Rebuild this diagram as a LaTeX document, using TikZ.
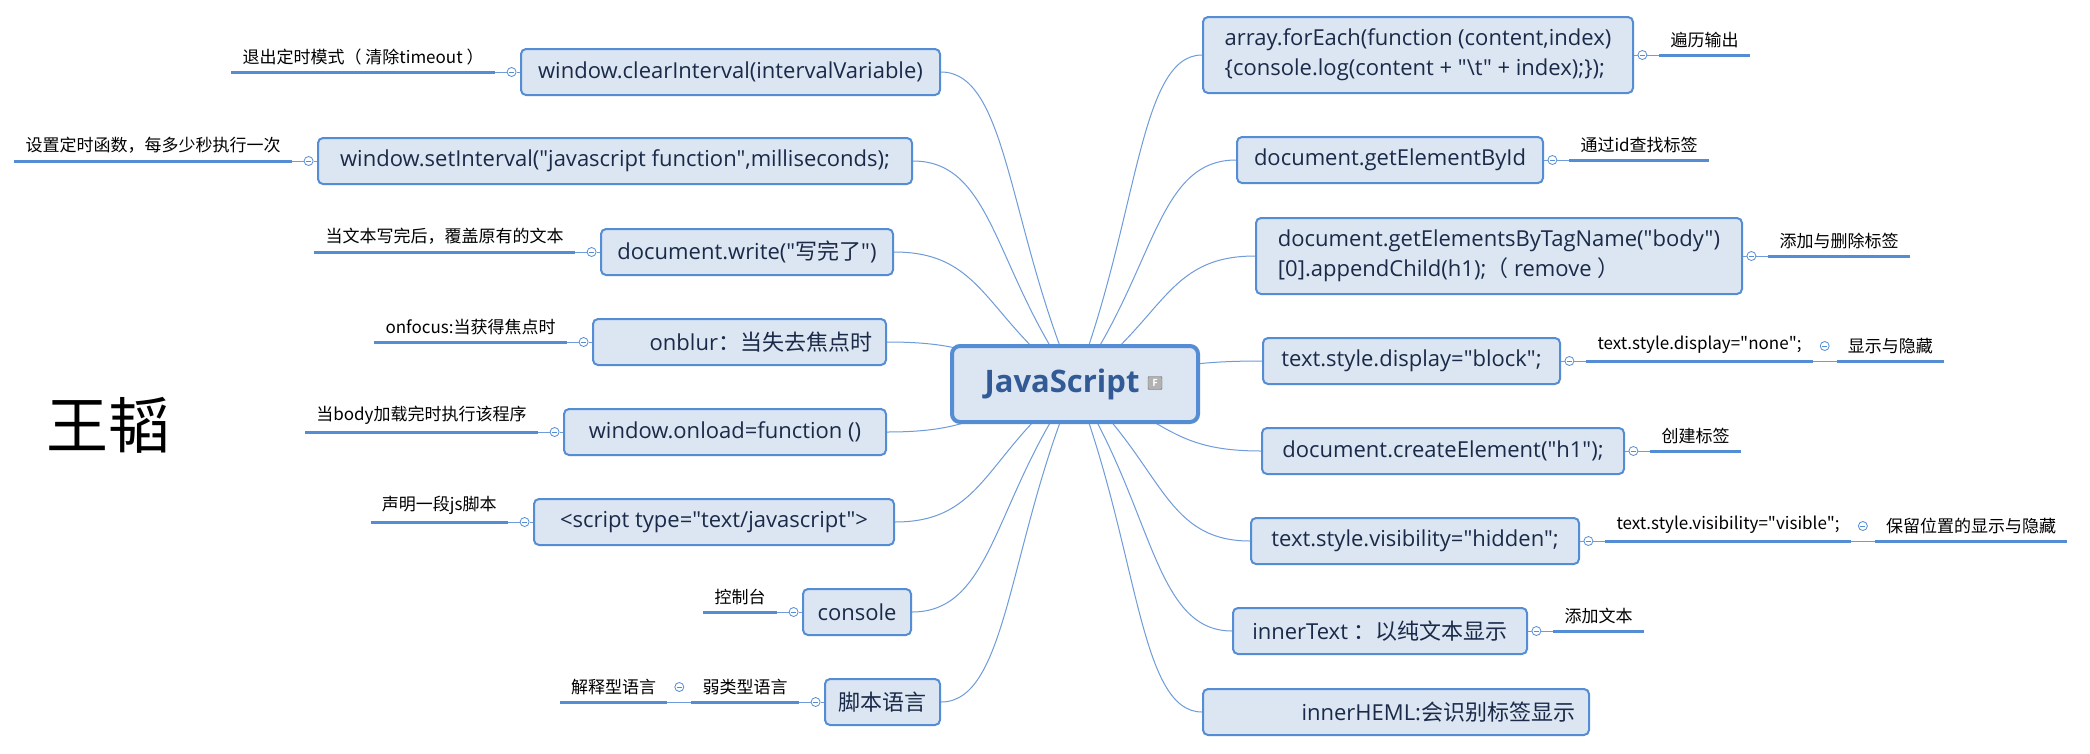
\documentclass[tikz,border=0pt]{standalone}
\usepackage{fontspec}
\newfontfamily\latin{Open Sans}
\newfontfamily\cjk{Noto Sans CJK SC}
\usetikzlibrary{positioning,calc,backgrounds}
\definecolor{topicfill}{RGB}{220,230,242}
\definecolor{topicline}{RGB}{85,141,213}
\definecolor{branchcol}{RGB}{110,155,218}
\definecolor{topictext}{RGB}{26,42,72}
\definecolor{roottext}{RGB}{50,90,150}
\tikzset{
  root/.style={draw=topicline, line width=4pt, fill=topicfill, rounded corners=8pt,
    minimum width=246pt, minimum height=76pt, text=roottext,
    font=\latin\bfseries\fontsize{31}{36}\selectfont},
  topic/.style={draw=topicline, line width=2pt, fill=topicfill, rounded corners=5pt,
    minimum height=46pt, inner xsep=8pt, text=topictext,
    font=\latin\fontsize{22}{30}\selectfont},
  fold/.style={circle, draw=topicline, line width=0.8pt, fill=white,
    minimum size=9pt, inner sep=0pt,
    path picture={\draw[topicline, line width=0.8pt]
      ([xshift=-2.5pt]path picture bounding box.center) --
      ([xshift=2.5pt]path picture bounding box.center);}},
  note/.style={inner xsep=11pt, inner ysep=7pt, font=\cjk\fontsize{17}{20}\selectfont},
  uline/.style={draw=topicline, line width=3pt},
  link/.style={draw=branchcol, line width=0.9pt},
  branch/.style={draw=branchcol, line width=1pt},
  ficon/.style={draw=gray!80!black, fill=gray!60, rounded corners=1pt,
    minimum width=14pt, minimum height=13pt, inner sep=0pt, text=white,
    font=\latin\bfseries\fontsize{10}{10}\selectfont}
}

\begin{document}
\begin{tikzpicture}[x=1pt, y=-1pt]
\useasboundingbox (0,0) rectangle (2090,753);
% central topic
\node[root] (root) at (1075,384) {JavaScript\hspace*{26pt}};
\node[ficon] (root-f) at (1155,383) {F};
\node[font=\cjk\fontsize{62}{62}\selectfont] (author) at (108,425) {王韬};
% left topics
\node[topic, minimum width=419pt] (cw) at (730.5,72) {window.clearInterval(intervalVariable)};
\node[topic, minimum width=594pt] (si) at (615,161) {window.setInterval("javascript function",milliseconds);};
\node[topic, minimum width=292pt] (dw) at (747,252) {document.write("{\cjk 写完了}")};
\node[topic, inner xsep=14pt, text width=265pt, align=right] (ob) at (739.5,342) {onblur{\cjk ：当失去焦点时}};
\node[topic, minimum width=322pt] (wo) at (725,432) {window.onload=function ()};
\node[topic, minimum width=360pt] (sc) at (714,522) {<script type="text/javascript">};
\node[topic, minimum width=108pt] (co) at (857,612) {console};
\node[topic, minimum width=115pt] (jb) at (882.5,702) {\cjk 脚本语言};
% right topics
\node[topic, minimum width=430pt, minimum height=76pt, align=left] (fe) at (1418,55)
  {array.forEach(function (content,index)\\\{console.log(content + "\textbackslash t" + index);\});};
\node[topic, minimum width=306pt] (gi) at (1390,160) {document.getElementById};
\node[topic, minimum width=486pt, minimum height=76pt, align=left] (gt) at (1499,256)
  {document.getElementsByTagName("body")\\{}[0].appendChild(h1);{\cjk （} remove {\cjk ）}};
\node[topic, minimum width=297pt] (db) at (1411.5,361) {text.style.display="block";};
\node[topic, minimum width=362pt] (ce) at (1443,451) {document.createElement("h1");};
\node[topic, minimum width=328pt] (vh) at (1415,541) {text.style.visibility="hidden";};
\node[topic, minimum width=294pt] (it) at (1380,631) {innerText {\cjk ：以纯文本显示}};
\node[topic, inner xsep=14pt, text width=358pt, align=right] (ih) at (1396,712) {innerHEML:{\cjk 会识别标签显示}};

% fold markers and notes, left
\foreach \b in {cw,si,dw,ob,wo,sc,co,jb}
  \node[fold, left=3.5pt of \b] (\b-f) {};
\node[note, anchor=south east] (cw-n) at ([xshift=-12pt]cw-f.west) {退出定时模式（ 清除timeout ）};
\node[note, anchor=south east] (si-n) at ([xshift=-12pt]si-f.west) {设置定时函数，每多少秒执行一次};
\node[note, anchor=south east] (dw-n) at ([xshift=-12pt]dw-f.west) {当文本写完后，覆盖原有的文本};
\node[note, anchor=south east] (ob-n) at ([xshift=-12pt]ob-f.west) {onfocus:当获得焦点时};
\node[note, anchor=south east] (wo-n) at ([xshift=-12pt]wo-f.west) {当body加载完时执行该程序};
\node[note, anchor=south east] (sc-n) at ([xshift=-12pt]sc-f.west) {声明一段js脚本};
\node[note, anchor=south east] (co-n) at ([xshift=-12pt]co-f.west) {控制台};
\node[note, anchor=south east] (jb-n) at ([xshift=-12pt]jb-f.west) {弱类型语言};
\node[note, anchor=south east] (jb-m) at ([xshift=-24pt]jb-n.south west) {解释型语言};
\node[fold] (jb-g) at ($(jb-n.south west)!0.5!(jb-m.south east)+(0,15pt)$) {};

% fold markers and notes, right
\foreach \b in {fe,gi,gt,db,ce,vh,it}
  \node[fold, right=3.5pt of \b] (\b-f) {};
\node[note, anchor=south west] (fe-n) at ([xshift=12pt]fe-f.east) {遍历输出};
\node[note, anchor=south west] (gi-n) at ([xshift=12pt]gi-f.east) {通过id查找标签};
\node[note, anchor=south west] (gt-n) at ([xshift=12pt]gt-f.east) {添加与删除标签};
\node[note, anchor=south west] (db-n) at ([xshift=12pt]db-f.east) {text.style.display="none";};
\node[note, anchor=south west] (db-m) at ([xshift=24pt]db-n.south east) {显示与隐藏};
\node[fold] (db-g) at ($(db-n.south east)!0.5!(db-m.south west)+(0,15pt)$) {};
\node[note, anchor=south west] (ce-n) at ([xshift=12pt]ce-f.east) {创建标签};
\node[note, anchor=south west] (vh-n) at ([xshift=12pt]vh-f.east) {text.style.visibility="visible";};
\node[note, anchor=south west] (vh-m) at ([xshift=24pt]vh-n.south east) {保留位置的显示与隐藏};
\node[fold] (vh-g) at ($(vh-n.south east)!0.5!(vh-m.south west)+(0,15pt)$) {};
\node[note, anchor=south west] (it-n) at ([xshift=12pt]it-f.east) {添加文本};

% note lines
\foreach \b in {cw,si,dw,ob,wo,sc,co,jb} {
  \draw[link] (\b.west) -- (\b-f.east);
  \draw[link] (\b-f.west) -- (\b-n.south east);
  \draw[uline] (\b-n.south west) -- (\b-n.south east);
}
\foreach \b in {fe,gi,gt,db,ce,vh,it} {
  \draw[link] (\b.east) -- (\b-f.west);
  \draw[link] (\b-f.east) -- (\b-n.south west);
  \draw[uline] (\b-n.south west) -- (\b-n.south east);
}
\draw[link] (jb-n.south west) -- (jb-m.south east);
\draw[uline] (jb-m.south west) -- (jb-m.south east);
\foreach \b in {db,vh} {
  \draw[link] (\b-n.south east) -- (\b-m.south west);
  \draw[uline] (\b-m.south west) -- (\b-m.south east);
}

% branches from the centre
\begin{scope}[on background layer]
\fill[white] (0,0) rectangle (2090,753);
\foreach \b in {cw,si,dw,ob,wo,sc,co,jb}
  \draw[branch] let \p1=(root.center), \p2=(\b.east) in
    (\p1) .. controls ($(\p1)!0.5!(\p2)$) and ({0.5*\x1+0.5*\x2},\y2) .. (\p2);
\foreach \b in {fe,gi,gt,db,ce,vh,it,ih}
  \draw[branch] let \p1=(root.center), \p2=(\b.west) in
    (\p1) .. controls ($(\p1)!0.5!(\p2)$) and ({0.5*\x1+0.5*\x2},\y2) .. (\p2);
\end{scope}
\end{tikzpicture}
\end{document}
